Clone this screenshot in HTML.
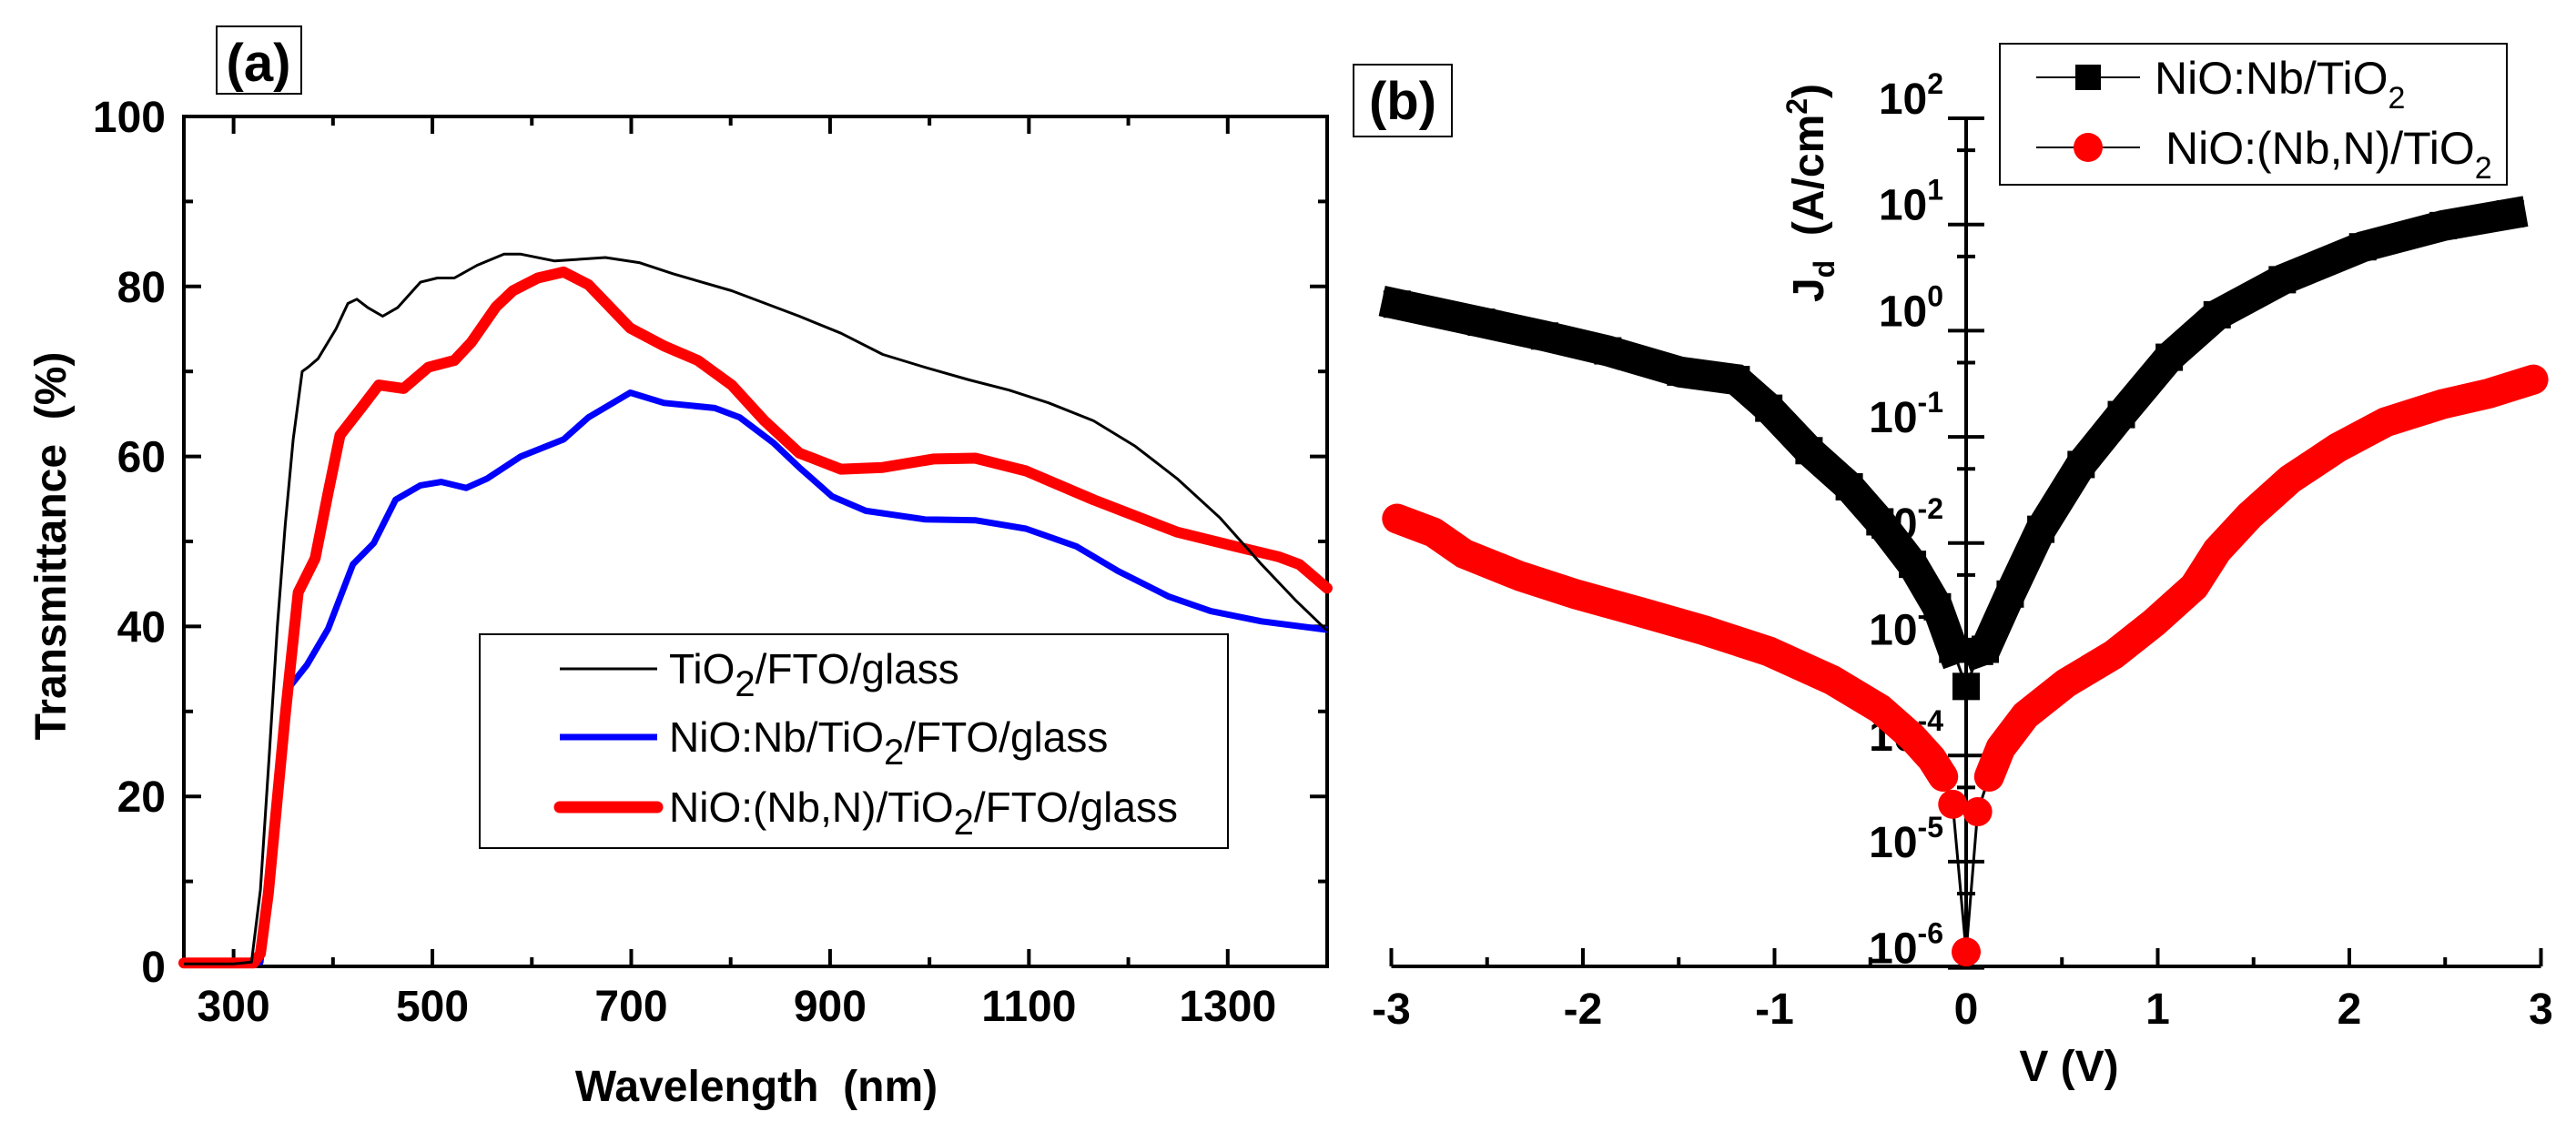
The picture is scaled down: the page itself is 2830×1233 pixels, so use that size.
<!DOCTYPE html>
<html><head><meta charset="utf-8"><style>
html,body{margin:0;padding:0;background:#fff;}
svg{display:block;font-family:"Liberation Sans",Arial,sans-serif;}
</style></head><body>
<svg id="fig" width="2830" height="1233" viewBox="0 0 2830 1233" xmlns="http://www.w3.org/2000/svg">
<g>
<rect x="238" y="29" width="93" height="74" fill="none" stroke="#000" stroke-width="2"/>
<text x="284" y="89" font-size="58" font-weight="bold" text-anchor="middle">(a)</text>
<rect x="202" y="128" width="1256" height="934" fill="none" stroke="#000" stroke-width="4"/>
<g id="ticksA"></g>
<g id="curvesA"></g>
<text x="831" y="1210" font-size="48" font-weight="bold" text-anchor="middle" xml:space="preserve">Wavelength  (nm)</text>
<text transform="translate(72,600) rotate(-90)" font-size="48" font-weight="bold" text-anchor="middle" xml:space="preserve">Transmittance  (%)</text>
<g>
<rect x="527" y="697" width="822" height="235" fill="#fff" stroke="#000" stroke-width="2"/>
<line x1="615" y1="735" x2="722" y2="735" stroke="#000" stroke-width="3"/>
<text x="735" y="751" font-size="46">TiO<tspan font-size="40" dy="14">2</tspan><tspan dy="-14">/FTO/glass</tspan></text>
<line x1="615" y1="810" x2="722" y2="810" stroke="#0000ff" stroke-width="7"/>
<text x="735" y="826" font-size="46">NiO:Nb/TiO<tspan font-size="40" dy="14">2</tspan><tspan dy="-14">/FTO/glass</tspan></text>
<line x1="615" y1="887" x2="722" y2="887" stroke="#ff0000" stroke-width="13" stroke-linecap="round"/>
<text x="735" y="903" font-size="46">NiO:(Nb,N)/TiO<tspan font-size="40" dy="14">2</tspan><tspan dy="-14">/FTO/glass</tspan></text>
</g>
</g>
<g>
<rect x="1487" y="71" width="108" height="79" fill="none" stroke="#000" stroke-width="2"/>
<text x="1541" y="131" font-size="58" font-weight="bold" text-anchor="middle">(b)</text>
<g id="axesB"></g>
<g id="curvesB"></g>
<text x="2273" y="1188" font-size="48" font-weight="bold" text-anchor="middle">V (V)</text>
<text transform="translate(2003,212) rotate(-90)" font-size="48" font-weight="bold" text-anchor="middle" xml:space="preserve">J<tspan font-size="32" dy="12">d</tspan><tspan dy="-12">  (A/cm</tspan><tspan font-size="32" dy="-18">2</tspan><tspan dy="18">)</tspan></text>
<g>
<rect x="2197" y="48" width="557" height="155" fill="#fff" stroke="#000" stroke-width="2"/>
<line x1="2237" y1="85" x2="2351" y2="85" stroke="#000" stroke-width="2"/>
<rect x="2280" y="71" width="28" height="28" fill="#000"/>
<text x="2367" y="103" font-size="50">NiO:Nb/TiO<tspan font-size="34" dy="16">2</tspan></text>
<line x1="2237" y1="162" x2="2351" y2="162" stroke="#000" stroke-width="2"/>
<ellipse cx="2294" cy="162" rx="16" ry="16" fill="#ff0000"/>
<text x="2379" y="180" font-size="50">NiO:(Nb,N)/TiO<tspan font-size="34" dy="16">2</tspan></text>
</g>
</g>
</svg>
<script>
const tio2Wl = [250,300,318,327,336,344,352,360,369,375,385,403,415,424,435,450,465,488,505,522,545,572,589,623,674,708,742,801,869,911,953,995,1040,1080,1120,1165,1207,1249,1292,1334,1368,1400];
const tio2T  = [0.3,0.3,0.5,9,25,40,52,62,70,70.5,71.5,75,78,78.5,77.5,76.5,77.5,80.5,81,81,82.5,83.8,83.8,83,83.4,82.8,81.5,79.5,76.5,74.5,72,70.5,69,67.8,66.3,64.2,61.2,57.4,52.8,47.3,43.1,39.5];
const nbWl = [250,300,327,344,357,374,395,420,441,463,488,509,534,555,589,632,657,699,733,784,809,843,869,902,936,995,1046,1097,1148,1190,1241,1283,1334,1400];
const nbT  = [0.3,0.3,0.5,21,33,35.5,39.7,47.3,49.8,54.9,56.6,57,56.3,57.4,60,62,64.6,67.5,66.3,65.7,64.6,61.6,58.7,55.3,53.6,52.6,52.5,51.5,49.4,46.5,43.5,41.8,40.6,39.6];
const nbnWl = [250,300,320,327,335,352,365,382,395,407,429,446,471,496,522,539,564,581,606,632,657,699,733,767,801,834,869,911,953,1004,1046,1097,1165,1249,1308,1351,1372,1400];
const nbnT  = [0.4,0.4,0.4,1.5,8.6,29.6,44,48,55.7,62.5,65.8,68.4,68,70.5,71.3,73.4,77.6,79.5,81,81.7,80.2,75.1,73,71.3,68.4,64.2,60.4,58.5,58.7,59.7,59.8,58.3,54.9,51.1,49.4,48.2,47.3,44.5];
const xTicksA = [300,500,700,900,1100,1300];
const yTicksA = [0,20,40,60,80,100];

const nbV    = [-2.97,-2.53,-2.2,-1.87,-1.49,-1.2,-1.03,-0.82,-0.61,-0.45,-0.28,-0.15,-0.07,0,0.07,0.1,0.23,0.39,0.6,0.81,1.06,1.31,1.65,2.07,2.49,2.84];
const nbLogJ = [0.25,0.08,-0.05,-0.19,-0.39,-0.46,-0.73,-1.13,-1.47,-1.8,-2.2,-2.6,-3.0,-3.35,-3.02,-3.0,-2.48,-1.87,-1.26,-0.79,-0.25,0.15,0.48,0.79,0.99,1.1];
const nbnV    = [-2.97,-2.78,-2.62,-2.33,-2.04,-1.7,-1.37,-1.03,-0.7,-0.45,-0.28,-0.18,-0.12,-0.07,0,0.06,0.12,0.18,0.31,0.52,0.77,0.98,1.19,1.31,1.48,1.69,1.94,2.19,2.49,2.73,2.96];
const nbnLogJ = [-1.77,-1.9,-2.1,-2.31,-2.48,-2.65,-2.82,-3.02,-3.29,-3.56,-3.83,-4.03,-4.2,-4.46,-5.85,-4.53,-4.2,-3.93,-3.62,-3.32,-3.05,-2.75,-2.41,-2.07,-1.74,-1.4,-1.1,-0.86,-0.69,-0.59,-0.46];
const xTicksB = [-3,-2,-1,0,1,2,3];
const yDecadesB = [2,1,0,-1,-2,-3,-4,-5,-6];

const NS = "http://www.w3.org/2000/svg";
function mk(tag, parent, attrs){
  const e = document.createElementNS(NS, tag);
  for (const k in attrs) e.setAttribute(k, attrs[k]);
  parent.appendChild(e);
  return e;
}
const xA = w => 202 + (w - 250) * (1256 / 1150);
const yA = t => 1062 - t * 9.34;
const xB = v => 2160 + v * 210.5;
const yB = l => 130 + (2 - l) * 116.7;

const tA = document.getElementById('ticksA');
for (let w = 300; w <= 1400; w += 100) {
  const major = xTicksA.includes(w);
  const len = major ? 19 : 10;
  let l1 = mk('line', tA, {x1:xA(w), x2:xA(w), y1:1062, y2:1062-len, stroke:'#000','stroke-width':4});
  
  
  let l2 = mk('line', tA, {x1:xA(w), x2:xA(w), y1:128, y2:128+len, stroke:'#000','stroke-width':4});
  
  
}
for (let t = 10; t < 100; t += 10) {
  const len = (t % 20 === 0) ? 19 : 10;
  let l1 = mk('line', tA, {x1:202, x2:202+len, y1:yA(t), y2:yA(t), stroke:'#000','stroke-width':4});
  
  
  let l2 = mk('line', tA, {x1:1458, x2:1458-len, y1:yA(t), y2:yA(t), stroke:'#000','stroke-width':4});
  
  
}
xTicksA.forEach(w => {
  const t = mk('text', tA, {x:xA(w), y:1122, 'font-size':48, 'font-weight':'bold', 'text-anchor':'middle'});
  t.textContent = w;
  
  
});
yTicksA.forEach(v => {
  const t = mk('text', tA, {x:182, y:yA(v)+17, 'font-size':48, 'font-weight':'bold', 'text-anchor':'end'});
  t.textContent = v;
  
  
});

const cA = document.getElementById('curvesA');
function pathA(xs, ys){ return xs.map((x,i)=>(i?'L':'M')+xA(x).toFixed(1)+','+yA(ys[i]).toFixed(1)).join(' '); }
let pb = mk('path', cA, {d:pathA(nbWl,nbT), fill:'none', stroke:'#0000ff','stroke-width':7,'stroke-linejoin':'round'});


let pr = mk('path', cA, {d:pathA(nbnWl,nbnT), fill:'none', stroke:'#ff0000','stroke-width':12,'stroke-linejoin':'round','stroke-linecap':'round'});


let pk = mk('path', cA, {d:pathA(tio2Wl,tio2T), fill:'none', stroke:'#000','stroke-width':3,'stroke-linejoin':'round'});



const aB = document.getElementById('axesB');
let bx = mk('line', aB, {x1:xB(-3), x2:xB(3), y1:1062, y2:1062, stroke:'#000','stroke-width':4});


let by = mk('line', aB, {x1:xB(0), x2:xB(0), y1:yB(2), y2:1062, stroke:'#000','stroke-width':4});


for (let v = -3; v <= 3.001; v += 0.5) {
  const major = Math.abs(v - Math.round(v)) < 1e-6;
  const len = major ? 20 : 10;
  let l = mk('line', aB, {x1:xB(v), x2:xB(v), y1:1062, y2:1062-len, stroke:'#000','stroke-width':4});
  
  
}
xTicksB.forEach(v => {
  const t = mk('text', aB, {x:xB(v), y:1125, 'font-size':48, 'font-weight':'bold', 'text-anchor':'middle'});
  t.textContent = v;
  
  
});
yDecadesB.forEach(d => {
  let l = mk('line', aB, {x1:xB(0)-20, x2:xB(0)+20, y1:yB(d), y2:yB(d), stroke:'#000','stroke-width':4});
  
  
  if (d > -6) {
    const ym = yB(d - 1 + Math.log10(5));
    let m = mk('line', aB, {x1:xB(0)-10, x2:xB(0)+10, y1:ym, y2:ym, stroke:'#000','stroke-width':4});
    
    
  }
  const t = mk('text', aB, {x:2135, y:yB(d)-5, 'font-size':48, 'font-weight':'bold', 'text-anchor':'end'});
  t.innerHTML = '10<tspan font-size="32" dy="-22">' + d + '</tspan>';
  
  
});

const cB = document.getElementById('curvesB');
function pathB(xs, ys){ return xs.map((x,i)=>(i?'L':'M')+xB(x).toFixed(1)+','+yB(ys[i]).toFixed(1)).join(' '); }
let lk = mk('path', cB, {d:pathB(nbV,nbLogJ), fill:'none', stroke:'#000','stroke-width':3});


let lr = mk('path', cB, {d:pathB(nbnV,nbnLogJ), fill:'none', stroke:'#000','stroke-width':3});


[true,false].forEach(neg => {
  const X=[],Y=[];
  nbV.forEach((v,i)=>{ if(v!==0 && (neg? v<0 : v>0)){X.push(v);Y.push(nbLogJ[i]);} });
  let b = mk('path', cB, {d:pathB(X,Y), fill:'none', stroke:'#000','stroke-width':34,'stroke-linejoin':'miter','stroke-linecap':'square'});
  
  
});
[true,false].forEach(neg => {
  const X=[],Y=[];
  nbnV.forEach((v,i)=>{ if(v!==0 && (neg? v<0 : v>0) && !(Math.abs(v)<0.1)){X.push(v);Y.push(nbnLogJ[i]);} });
  let b = mk('path', cB, {d:pathB(X,Y), fill:'none', stroke:'#ff0000','stroke-width':33,'stroke-linejoin':'round','stroke-linecap':'round'});
  
  
});
nbV.forEach((v,i) => {
  const s = mk('rect', cB, {x:xB(v)-15, y:yB(nbLogJ[i])-15, width:30, height:30, fill:'#000'});
  
  
});
nbnV.forEach((v,i) => {
  const c = mk('circle', cB, {cx:xB(v), cy:yB(nbnLogJ[i]), r:16, fill:'#ff0000'});
  
  
});
</script>
</body></html>
